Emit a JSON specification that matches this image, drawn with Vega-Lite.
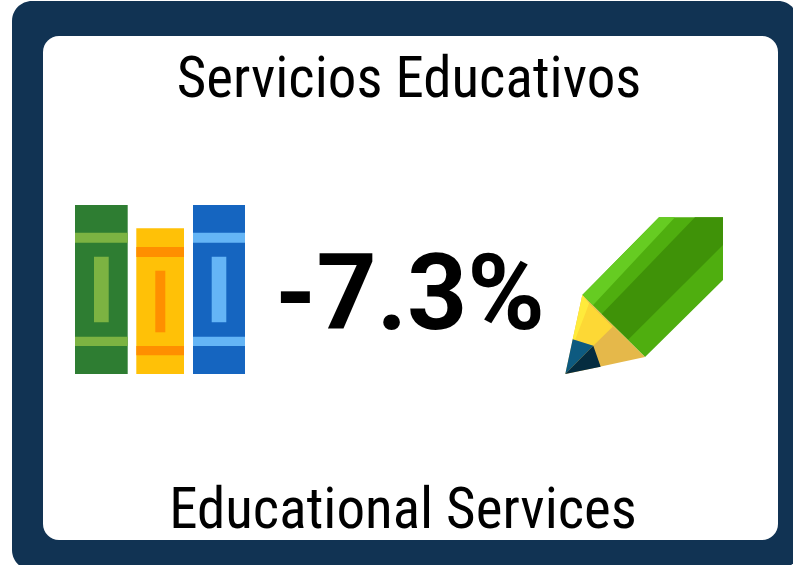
{"$schema":"https://vega.github.io/schema/vega-lite/v6.json","width":793,"height":565,"padding":0,"autosize":{"type":"fit","contains":"padding"},"background":"white","config":{"view":{"stroke":null}},
"encoding":{"x":{"field":"x","type":"quantitative","scale":{"domain":[0,793],"nice":false,"zero":false},"axis":null},"y":{"field":"y","type":"quantitative","scale":{"domain":[565,0],"nice":false,"zero":false},"axis":null},
"color":{"field":"part","type":"nominal","legend":null,"scale":{"domain":["frame","panel","green book","green trim","amber book","amber trim","blue book","blue trim","body","body dark","body light","wood","lead yellow","lead pale","tip blue","tip navy","text"],"range":["#113353","#ffffff","#2E7D32","#7CB342","#FFC107","#FF8F00","#1565C0","#64B5F6","#4FAE0F","#3F9208","#66CC22","#E5B84A","#FDD835","#FFEB3B","#0D5A80","#052C40","#000000"]}}},
"layer":[
{"data":{"values":[{"part":"frame","x":12,"x2":798,"y":1,"y2":570}]},"mark":{"type":"rect","cornerRadius":20,"clip":true},"encoding":{"x2":{"field":"x2"},"y2":{"field":"y2"}}},
{"data":{"values":[{"part":"panel","x":43,"x2":778,"y":36,"y2":540}]},"mark":{"type":"rect","cornerRadius":16},"encoding":{"x2":{"field":"x2"},"y2":{"field":"y2"}}},
{"data":{"values":[
{"part":"green book","x":75,"x2":127.7,"y":205,"y2":374},
{"part":"green trim","x":75,"x2":127.7,"y":232.7,"y2":242.7},
{"part":"green trim","x":75,"x2":127.7,"y":336.7,"y2":346},
{"part":"green trim","x":94,"x2":108.7,"y":256.7,"y2":322.3},
{"part":"amber book","x":136.3,"x2":184,"y":228.3,"y2":374},
{"part":"amber trim","x":136.3,"x2":184,"y":247,"y2":257},
{"part":"amber trim","x":136.3,"x2":184,"y":346,"y2":355.3},
{"part":"amber trim","x":155.3,"x2":165.3,"y":270.7,"y2":332.3},
{"part":"blue book","x":193,"x2":245,"y":205,"y2":374},
{"part":"blue trim","x":193,"x2":245,"y":232.7,"y2":242.7},
{"part":"blue trim","x":193,"x2":245,"y":336.7,"y2":346},
{"part":"blue trim","x":211.7,"x2":226.3,"y":256.7,"y2":322.3}
]},"mark":{"type":"rect"},"encoding":{"x2":{"field":"x2"},"y2":{"field":"y2"}}},
{"data":{"values":[
{"part":"body","x":582.3,"y":295,"y2":295},{"part":"body","x":645,"y":231.5,"y2":357},{"part":"body","x":659,"y":217.3,"y2":343.2},{"part":"body","x":723,"y":217.3,"y2":280},
{"part":"body dark","x":601.7,"y":314,"y2":314},{"part":"body dark","x":628.3,"y":286.4,"y2":339.5},{"part":"body dark","x":695,"y":217.3,"y2":273},{"part":"body dark","x":723,"y":217.3,"y2":245},
{"part":"body light","x":582.3,"y":295,"y2":295},{"part":"body light","x":592.7,"y":284.5,"y2":305.5},{"part":"body light","x":659,"y":217.3,"y2":234.4},{"part":"body light","x":675,"y":217.3,"y2":217.3},
{"part":"wood","x":565.3,"y":374,"y2":374},{"part":"wood","x":582.3,"y":295,"y2":370.4},{"part":"wood","x":645,"y":357,"y2":357},
{"part":"lead yellow","x":572.7,"y":339.3,"y2":339.3},{"part":"lead yellow","x":589.3,"y":303.3,"y2":344.5},{"part":"lead yellow","x":593.3,"y":307.3,"y2":345.7},{"part":"lead yellow","x":612.7,"y":326.7,"y2":326.7},
{"part":"lead pale","x":572.7,"y":339.3,"y2":339.3},{"part":"lead pale","x":575,"y":328.7,"y2":340},{"part":"lead pale","x":582.3,"y":295,"y2":321.2},{"part":"lead pale","x":589.3,"y":303.3,"y2":303.3},
{"part":"tip blue","x":565.3,"y":374,"y2":374},{"part":"tip blue","x":572.7,"y":339.3,"y2":366.5},{"part":"tip blue","x":593.3,"y":345.7,"y2":345.7},
{"part":"tip navy","x":565.3,"y":374,"y2":374},{"part":"tip navy","x":593.3,"y":345.7,"y2":368.2},{"part":"tip navy","x":600.7,"y":366.7,"y2":366.7}
]},"mark":{"type":"area","interpolate":"linear"},"encoding":{"y2":{"field":"y2"},"detail":{"field":"part"}}},
{"data":{"values":[{"part":"text","x":409,"y":80,"label":"Servicios Educativos"},{"part":"text","x":403,"y":511,"label":"Educational Services"}]},"mark":{"type":"text","font":"Liberation Sans Narrow, Roboto Condensed, Roboto","fontSize":57,"align":"center","baseline":"middle"},"encoding":{"text":{"field":"label"}}},
{"data":{"values":[{"part":"text","x":410,"y":297,"label":"-7.3%"}]},"mark":{"type":"text","font":"Roboto","fontWeight":"bold","fontSize":105,"align":"center","baseline":"middle"},"encoding":{"text":{"field":"label"}}}
]}
